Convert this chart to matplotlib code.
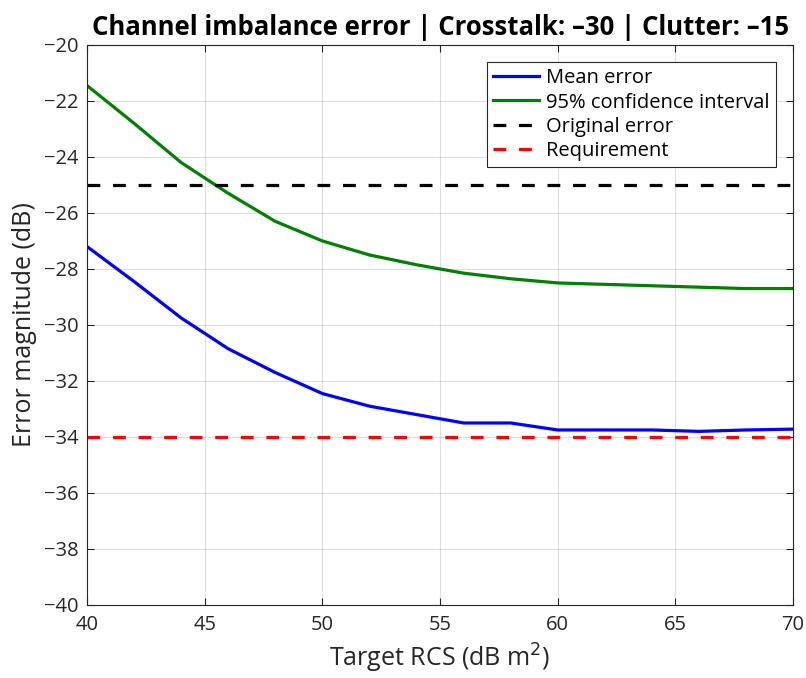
import numpy as np
import matplotlib
matplotlib.use("Agg")
import matplotlib.pyplot as plt

# target RCS values (dB m^2)
rcs = [40, 42, 44, 46, 48, 50, 52, 54, 56, 58, 60, 62, 64, 66, 68, 70]

# mean error and 95% CI upper bound (dB)
mean_err = [-27.2, -28.45, -29.75, -30.85, -31.7, -32.45, -32.9, -33.2,
            -33.5, -33.5, -33.75, -33.75, -33.75, -33.8, -33.75, -33.72]
ci95 = [-21.45, -22.8, -24.2, -25.3, -26.3, -27.0, -27.5, -27.85,
        -28.15, -28.35, -28.5, -28.55, -28.6, -28.65, -28.7, -28.7]

original_err = -25
requirement = -34

plt.rcParams['font.family'] = ['Open Sans', 'DejaVu Sans']

fig = plt.figure(figsize=(8.06, 6.78), dpi=100)
ax = fig.add_axes([0.108, 0.1077, 0.876, 0.826])

ax.plot(rcs, mean_err, color='#0000ff', linewidth=2.3, label='Mean error')
ax.plot(rcs, ci95, color='#008000', linewidth=2.3, label='95% confidence interval')
ax.axhline(original_err, color='black', linewidth=2.3, dashes=(4, 4), label='Original error')
ax.axhline(requirement, color='#ff0000', linewidth=2.3, dashes=(4, 4), label='Requirement')

ax.set_xlim(40, 70)
ax.set_ylim(-40, -20)
ax.set_xticks(np.arange(40, 71, 5))
ax.set_yticks(np.arange(-40, -19, 2))
ax.set_yticklabels(['\u2212%d' % abs(v) for v in range(-40, -19, 2)])

ax.grid(True, color='#262626', alpha=0.15, linewidth=0.8)
ax.tick_params(direction='in', top=True, right=True, labelsize=14.5,
               colors='#262626', length=5, width=0.8)
ax.tick_params(axis='x', pad=7)
ax.tick_params(axis='y', pad=6)
for sp in ax.spines.values():
    sp.set_color('#262626')
    sp.set_linewidth(0.8)

ax.set_xlabel('Target RCS (dB m$^2$)', fontsize=18, color='#262626', labelpad=5)
ax.set_ylabel('Error magnitude (dB)', fontsize=18, color='#262626', labelpad=5)
ax.set_title('Channel imbalance error | Crosstalk: \u201330 | Clutter: \u201315',
             fontsize=18.5, fontweight='bold', color='black', pad=7)

leg = ax.legend(loc='upper right', fontsize=14.5, frameon=True, fancybox=False,
                edgecolor='#262626', framealpha=1, handlelength=2.3,
                handletextpad=0.35, borderpad=0.3, labelspacing=0.22,
                borderaxespad=0.85)
leg.get_frame().set_linewidth(0.8)

fig.savefig('out.png', dpi=100)
